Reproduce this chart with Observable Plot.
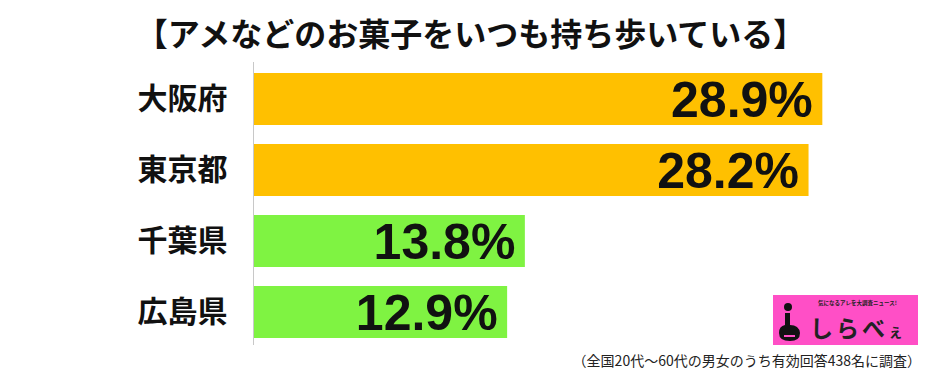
<!DOCTYPE html>
<html><head><meta charset="utf-8">
<script src="https://cdn.jsdelivr.net/npm/d3@7"></script>
<script src="https://cdn.jsdelivr.net/npm/@observablehq/plot@0.6"></script>
<style>
body{margin:0;background:#fff;}
#wrap{position:relative;width:941px;height:380px;overflow:hidden;font-family:"Noto Sans CJK JP",sans-serif;}
#title{position:absolute;left:0;top:12px;width:941px;text-align:center;font-size:32px;font-weight:bold;line-height:40px;color:#111;}
#chart{position:absolute;left:0;top:0;}
#logo{position:absolute;left:773px;top:295px;width:145px;height:50px;background:#ff4fc6;}
#caption{position:absolute;right:20px;top:350px;font-size:14px;line-height:20px;color:#222;white-space:nowrap;}
</style></head>
<body>
<div id="wrap">
  <div id="chart"></div>
  <div id="title">【アメなどのお菓子をいつも持ち歩いている】</div>
  <div id="logo">
    <svg width="145" height="50" viewBox="0 0 145 50">
      <circle cx="15" cy="12" r="4" fill="#111"/>
      <path d="M12 18 L17 18 L17 30 Q26 30 27 38 Q27 46 17 46 Q6 46 6 38 Q6 31 12 30 Z" fill="#111"/>
      <rect x="11" y="40" width="11" height="2" fill="#ff4fc6"/>
      <text x="45" y="10" font-size="5.5" font-weight="bold" fill="#222" font-family="Noto Sans CJK JP">気になるアレを大調査ニュース!</text>
      <text x="37" y="42" font-size="23" font-weight="bold" fill="#222" font-family="Noto Sans CJK JP" letter-spacing="3">しらべ<tspan font-size="15">ぇ</tspan></text>
    </svg>
  </div>
  <div id="caption">（全国20代～60代の男女のうち有効回答438名に調査）</div>
</div>
<script>
const categories = ["大阪府", "東京都", "千葉県", "広島県"];
const values = [28.9, 28.2, 13.8, 12.9];
const barColors = ["#ffc000", "#ffc000", "#7ff342", "#7ff342"];
const valueLabels = ["28.9%", "28.2%", "13.8%", "12.9%"];

const data = categories.map((c, i) => ({cat: c, value: values[i], color: barColors[i], label: valueLabels[i]}));

const plot = Plot.plot({
  width: 941,
  height: 380,
  marginLeft: 253,
  marginRight: 97,
  marginTop: 52,
  marginBottom: 22,
  x: {domain: [0, 30], axis: null},
  y: {domain: categories, padding: 0.27, label: null},
  style: {background: "transparent"},
  marks: [
    Plot.barX(data, {x: "value", y: "cat", fill: "color"}),
    Plot.ruleX([0], {stroke: "#c8c8c8", strokeWidth: 1, insetTop: 10, insetBottom: 13}),
    Plot.text(data, {x: "value", y: "cat", text: "label", textAnchor: "end", dx: -10, dy: 1,
      fontSize: 50, fontWeight: "bold", fill: "#111", fontFamily: "Liberation Sans, Arial, sans-serif"}),
    Plot.axisY({tickSize: 0, tickPadding: 26, fontSize: 30, fontWeight: "bold", fontFamily: "Noto Sans CJK JP", fill: "#111", label: null})
  ]
});
document.getElementById("chart").appendChild(plot);
</script>
</body></html>
